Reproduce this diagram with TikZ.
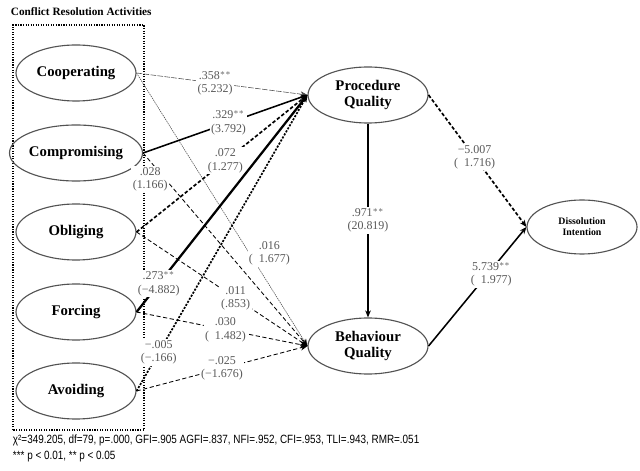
\documentclass[tikz,border=0pt]{standalone}
\usepackage{fontspec}
\setmainfont{Liberation Serif}
\newfontfamily\notefont[FakeStretch=0.83]{Liberation Sans}
\usetikzlibrary{shapes.geometric,arrows.meta,positioning}

\begin{document}
\begin{tikzpicture}[
  activity/.style={ellipse, draw=gray!65!black, thick, minimum width=3cm,
                   minimum height=1.4cm, inner sep=0pt, align=center,
                   font=\fontsize{10.5}{11.5}\selectfont\bfseries},
  outcome/.style={activity, minimum width=2.75cm, minimum height=1.35cm,
                  font=\fontsize{7}{8}\selectfont\bfseries},
  coef/.style={fill=white, inner sep=1pt, align=center, text=gray!70!black,
               font=\fontsize{8.5}{9.5}\selectfont},
  edge/.style={-{Stealth[length=5pt,width=4pt]}, black},
  solidedge/.style={edge, line width=1.1pt},
  boldedge/.style={edge, line width=1.6pt},
  dashedge/.style={edge, semithick, dash pattern=on 3pt off 1.8pt},
  thickdash/.style={edge, line width=1.2pt, dash pattern=on 2.5pt off 1.5pt},
  fineedge/.style={edge, thin, gray!60!black, dash pattern=on 4pt off 1pt},
  dotedge/.style={edge, thin, gray!60!black, dash pattern=on 1pt off 0.6pt},
  groupbox/.style={draw, densely dotted, thick},
  title/.style={font=\fontsize{8}{9}\selectfont\bfseries, anchor=west},
  fitnote/.style={font=\notefont\fontsize{8.5}{9}\selectfont, anchor=west, text=black},
]
  \useasboundingbox (0,0) rectangle (16,11.75);

  % Group of activities (left column)
  \node[title] (grouptitle) at (0.15,11.45) {Conflict Resolution Activities};
  \draw[groupbox] (0.325,1.0) rectangle (3.6,11.125);

  \node[activity] (coop) at (1.9,9.925) {Cooperating};
  \node[activity] (comp) at (1.9,7.925) {Compromising};
  \node[activity] (obl)  at (1.9,5.95)  {Obliging};
  \node[activity] (forc) at (1.9,3.95)  {Forcing};
  \node[activity] (avoid) at (1.9,1.975) {Avoiding};

  % Quality constructs and outcome
  \node[activity] (pq) at (9.2,9.375) {Procedure\\Quality};
  \node[activity] (bq) at (9.2,3.1)   {Behaviour\\Quality};
  \node[outcome]  (di) at (14.55,6.075) {Dissolution\\Intention};

  % Activities -> Behaviour Quality
  \draw[dotedge]  (coop.east)  -- (bq.west) node[coef, pos=0.66, xshift=0.5cm] {.016\\(\ \ 1.677)};
  \draw[dashedge] (comp.east)  -- (bq.west) node[coef, pos=0.08, below=-2pt, xshift=-0.15cm] {.028\\(1.166)};
  \draw[dashedge] (obl.east)   -- (bq.west) node[coef, pos=0.58] {.011\\(.853)};
  \draw[dashedge] (forc.east)  -- (bq.west) node[coef, pos=0.52] {.030\\(\ \ 1.482)};
  \draw[dashedge] (avoid.east) -- (bq.west) node[coef, pos=0.5] {−.025\\(−1.676)};

  % Activities -> Procedure Quality
  \draw[fineedge]  (coop.east)  -- (pq.west) node[coef, pos=0.46] {.358$^{**}$\\(5.232)};
  \draw[solidedge] (comp.east)  -- (pq.west) node[coef, pos=0.52] {.329$^{**}$\\(3.792)};
  \draw[thickdash] (obl.east)   -- (pq.west) node[coef, pos=0.52] {.072\\(1.277)};
  \draw[boldedge]  (forc.east)  -- (pq.west) node[coef, pos=0.13] {.273$^{**}$\\(−4.882)};
  \draw[thickdash, dash pattern=on 1.5pt off 1pt] (avoid.east) -- (pq.west)
        node[coef, pos=0.13] {−.005\\(−.166)};

  % Procedure Quality -> Behaviour Quality, both -> Dissolution Intention
  \draw[edge, line width=2pt] (pq.south) -- (bq.north) node[coef, pos=0.5] {.971$^{**}$\\(20.819)};
  \draw[thickdash] (pq.east) -- (di.west) node[coef, pos=0.47] {−5.007\\(\ \ 1.716)};
  \draw[solidedge] (bq.east) -- (di.west) node[coef, pos=0.6, xshift=0.1cm] {5.739$^{**}$\\(\ \ 1.977)};

  % Fit indices
  \node[fitnote] (fitline) at (0.2,0.75)
        {χ²=349.205, df=79, p=.000, GFI=.905 AGFI=.837, NFI=.952, CFI=.953, TLI=.943, RMR=.051};
  \node[fitnote, below=-3pt of fitline.south west, anchor=north west] (sigline)
        {*** p < 0.01, ** p < 0.05};

\end{tikzpicture}
\end{document}
